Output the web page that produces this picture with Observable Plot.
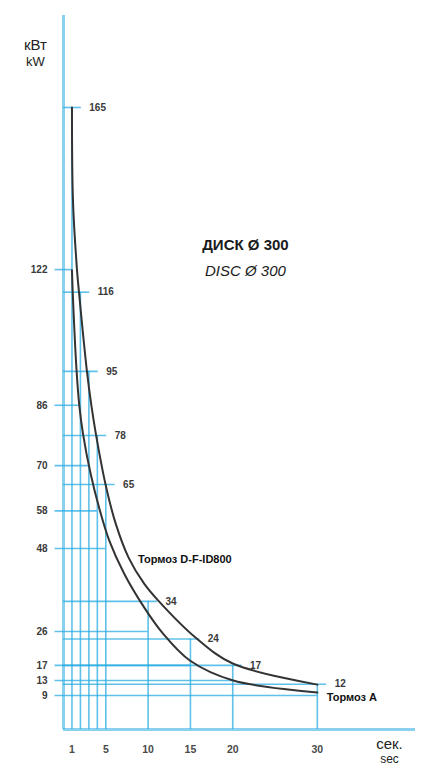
<!DOCTYPE html>
<html>
<head>
<meta charset="utf-8">
<script src="https://cdn.jsdelivr.net/npm/d3@7"></script>
<script src="https://cdn.jsdelivr.net/npm/@observablehq/plot@0.6"></script>
<style>
  html, body { margin: 0; padding: 0; background: #fff; }
  #chart { width: 422px; height: 767px; }
</style>
</head>
<body>
<div id="chart"></div>
<script>
// Time, seconds (grid positions)
const seconds = [1, 2, 3, 4, 5, 10, 15, 20, 30];
// Labelled values, Тормоз D-F-ID800 (kW)
const brakeDF = [165, 116, 95, 78, 65, 34, 24, 17, 12];
// Labelled values, Тормоз A (kW)
const brakeA = [122, 86, 70, 58, 48, 26, 17, 13, 9];
// Labelled x ticks
const xTickLabels = [1, 5, 10, 15, 20, 30];

// Curves (seconds, kW)
const curveDF_x = [1, 1.12, 1.6, 1.83, 2.77, 3.31, 3.82, 4.97, 6.17, 7.69, 9.53, 11.2, 15.6, 20, 30];
const curveDF_y = [165, 140.3, 121.8, 116, 95, 85.7, 78.5, 65, 54.6, 45.6, 38.7, 34.2, 24.4, 17.5, 11.9];
const curveA_x = [1, 1.09, 1.55, 1.88, 2.3, 3.2, 4.2, 5.41, 7.16, 9.53, 11.74, 14.93, 20.06, 30];
const curveA_y = [121.8, 116, 95, 85.7, 78.5, 67.9, 58.9, 50.1, 41.4, 32.4, 25.5, 18.3, 13, 9.8];

const upper = seconds.map((s, i) => ({x: s, y: brakeDF[i]}));
const lower = seconds.map((s, i) => ({x: s, y: brakeA[i]}));
const curveDF = curveDF_x.map((x, i) => ({x, y: curveDF_y[i]}));
const curveA = curveA_x.map((x, i) => ({x, y: curveA_y[i]}));

const blue = "#29abe2";
const numColor = "#3a3a3a";
const font = "Liberation Sans, Arial, sans-serif";

const chart = Plot.plot({
  width: 422,
  height: 767,
  marginLeft: 63,
  marginRight: 7,
  marginTop: 15,
  marginBottom: 38,
  x: {domain: [0, 41.6], axis: null},
  y: {domain: [0, 189.4], axis: null},
  style: {fontFamily: font, background: "#fff"},
  marks: [
    // vertical grid lines up to the upper values
    Plot.ruleX(upper, {x: "x", y1: 0, y2: "y", stroke: blue, strokeWidth: 1.6, strokeOpacity: 0.75}),
    // horizontal lines for Тормоз A values (tick left of the axis)
    Plot.ruleY(lower, {y: "y", x1: -1, x2: "x", stroke: blue, strokeWidth: 1.6, strokeOpacity: 0.75}),
    // horizontal lines for D-F-ID800 values (extend past the point)
    Plot.ruleY(upper, {y: "y", x1: 0, x2: d => d.x + 1.1, stroke: blue, strokeWidth: 1.6, strokeOpacity: 0.75}),
    // axes
    Plot.ruleX([0], {y1: 0, y2: 189.4, stroke: blue, strokeWidth: 3, strokeOpacity: 0.55}),
    Plot.ruleY([0], {x1: 0, x2: 41.6, stroke: blue, strokeWidth: 3, strokeOpacity: 0.55}),
    // curves
    Plot.line(curveDF, {x: "x", y: "y", curve: "catmull-rom", stroke: "#333", strokeWidth: 2}),
    Plot.line(curveA, {x: "x", y: "y", curve: "catmull-rom", stroke: "#333", strokeWidth: 2}),
    // left labels
    Plot.text(lower, {x: 0, y: "y", text: "y", dx: -16, textAnchor: "end", fontSize: 10, fontWeight: "bold", fill: numColor}),
    // right labels
    Plot.text(upper, {x: d => d.x + 1.1, y: "y", text: "y", dx: 8, textAnchor: "start", fontSize: 10, fontWeight: "bold", fill: numColor}),
    // x tick labels
    Plot.text(xTickLabels, {x: d => d, y: 0, text: d => String(d), dy: 20, fontSize: 10.5, fontWeight: "bold", fill: "#4a4a4a"}),
    // axis titles
    Plot.text(["кВт"], {x: 0, y: 189.4, dx: -28, dy: 30, fontSize: 15, fill: "#222", textAnchor: "middle"}),
    Plot.text(["kW"], {x: 0, y: 189.4, dx: -28, dy: 46, fontSize: 13, fill: "#222", textAnchor: "middle"}),
    Plot.text(["сек."], {x: 41.6, y: 0, dx: -26, dy: 15, fontSize: 15, fill: "#222", textAnchor: "middle"}),
    Plot.text(["sec"], {x: 41.6, y: 0, dx: -26, dy: 30, fontSize: 12, fill: "#222", textAnchor: "middle"}),
    // annotations
    Plot.text(["ДИСК Ø 300"], {x: 21.5, y: 128.5, fontSize: 15, fontWeight: "bold", fill: "#1a1a1a"}),
    Plot.text(["DISC Ø 300"], {x: 21.5, y: 121.5, fontSize: 15, fontStyle: "italic", fill: "#1a1a1a"}),
    Plot.text(["Тормоз D-F-ID800"], {x: 8.8, y: 45, textAnchor: "start", fontSize: 11, fontWeight: "bold", fill: "#111"}),
    Plot.text(["Тормоз A"], {x: 31.1, y: 8.4, textAnchor: "start", fontSize: 11, fontWeight: "bold", fill: "#111"})
  ]
});

document.getElementById("chart").appendChild(chart);
</script>
</body>
</html>
